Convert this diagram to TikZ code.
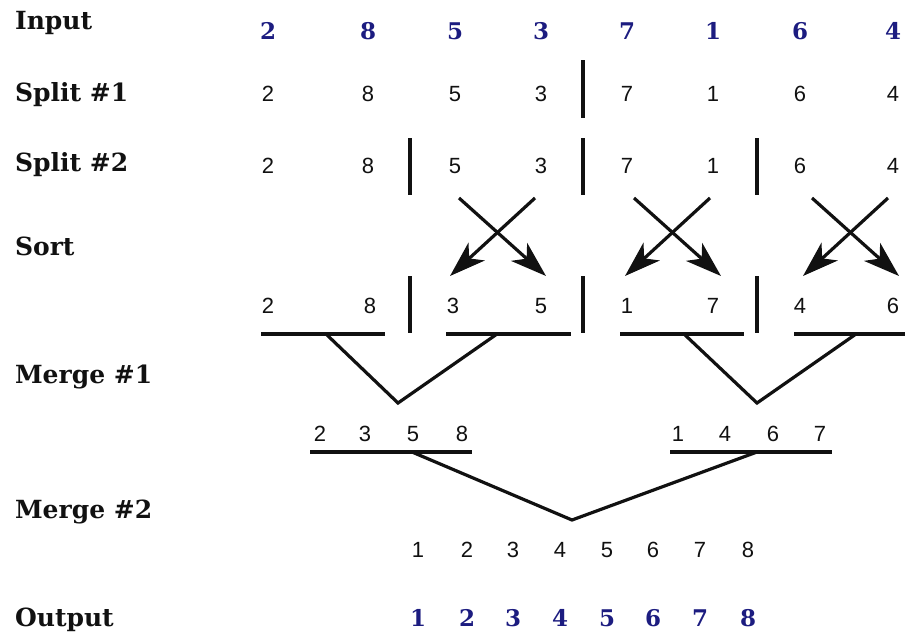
\documentclass[tikz,border=0pt]{standalone}
\usepackage{fontspec}
\usepackage{xcolor}
\usetikzlibrary{arrows.meta}
\newfontfamily\stepfont{DejaVu Serif}
\newfontfamily\digitfont{Liberation Sans}
\definecolor{ink}{HTML}{111111}
\definecolor{navy}{HTML}{1C1C80}
\tikzset{
  steplabel/.style={anchor=west, text=ink, font=\stepfont\bfseries\fontsize{12.5}{14}\selectfont},
  keynum/.style={text=navy, font=\stepfont\bfseries\fontsize{11.5}{13}\selectfont},
  num/.style={text=ink, font=\digitfont\fontsize{11}{13}\selectfont},
  divider/.style={draw=ink, line width=2pt},
  rule/.style={draw=ink, line width=1.6pt},
  swap/.style={draw=ink, line width=1.6pt, -{Stealth[length=18pt, width=12pt, inset=5pt]}}
}

\begin{document}
\begin{tikzpicture}[x=0.5pt, y=-0.5pt]
  \useasboundingbox (0,0) rectangle (905,633);
  \clip (0,0) rectangle (905,633);
  % row names
  \node[steplabel] (lInput)  at (8,23)  {Input};
  \node[steplabel] (lSplitA) at (8,95)  {Split \#1};
  \node[steplabel] (lSplitB) at (8,165) {Split \#2};
  \node[steplabel] (lSort)   at (8,246) {Sort};
  \node[steplabel] (lMergeA) at (8,377) {Merge \#1};
  \node[steplabel] (lMergeB) at (8,512) {Merge \#2};
  \node[steplabel] (lOutput) at (8,620) {Output};
  % input and the two splits
  \foreach \v/\x [count=\i] in {2/268, 8/368, 5/455, 3/541, 7/627, 1/713, 6/800, 4/893} {
    \node[keynum] (in\i) at (\x,31) {\v};
    \node[num] (sa\i) at (\x,94) {\v};
    \node[num] (sb\i) at (\x,166) {\v};
  }
  \draw[divider] (583,60) -- (583,118);
  \foreach \x in {410,583,757}
    \draw[divider] (\x,138) -- (\x,195);
  % swaps
  \foreach \dx in {0,175,353} {
    \draw[swap] (459+\dx,198) -- (546+\dx,276);
    \draw[swap] (535+\dx,198) -- (450+\dx,276);
  }
  % sorted pairs
  \foreach \v/\x [count=\i] in {2/268, 8/370, 3/453, 5/541, 1/627, 7/713, 4/800, 6/893}
    \node[num] (so\i) at (\x,306) {\v};
  \foreach \x in {410,583,757}
    \draw[divider] (\x,276) -- (\x,333);
  \foreach \a/\b in {261/385, 446/571, 620/744, 794/915}
    \draw[rule] (\a,334) -- (\b,334);
  \coordinate (pa) at (326,334);
  \coordinate (pb) at (497,334);
  \coordinate (pc) at (684,334);
  \coordinate (pd) at (856,334);
  \coordinate (va) at (398,403);
  \coordinate (vb) at (757,403);
  \draw[rule] (pa) -- (va) -- (pb);
  \draw[rule] (pc) -- (vb) -- (pd);
  % first merge
  \foreach \v/\x [count=\i] in {2/320, 3/365, 5/413, 8/462, 1/678, 4/725, 6/773, 7/820}
    \node[num] (ma\i) at (\x,434) {\v};
  \draw[rule] (310,452) -- (472,452);
  \draw[rule] (670,452) -- (832,452);
  \coordinate (qa) at (412,452);
  \coordinate (qb) at (757,452);
  \coordinate (vc) at (572,520);
  \draw[rule] (qa) -- (vc) -- (qb);
  % second merge and output
  \foreach \v/\x in {1/418, 2/467, 3/513, 4/560, 5/607, 6/653, 7/700, 8/748} {
    \node[num] (mb\v) at (\x,550) {\v};
    \node[keynum] (out\v) at (\x,618) {\v};
  }
\end{tikzpicture}
\end{document}
